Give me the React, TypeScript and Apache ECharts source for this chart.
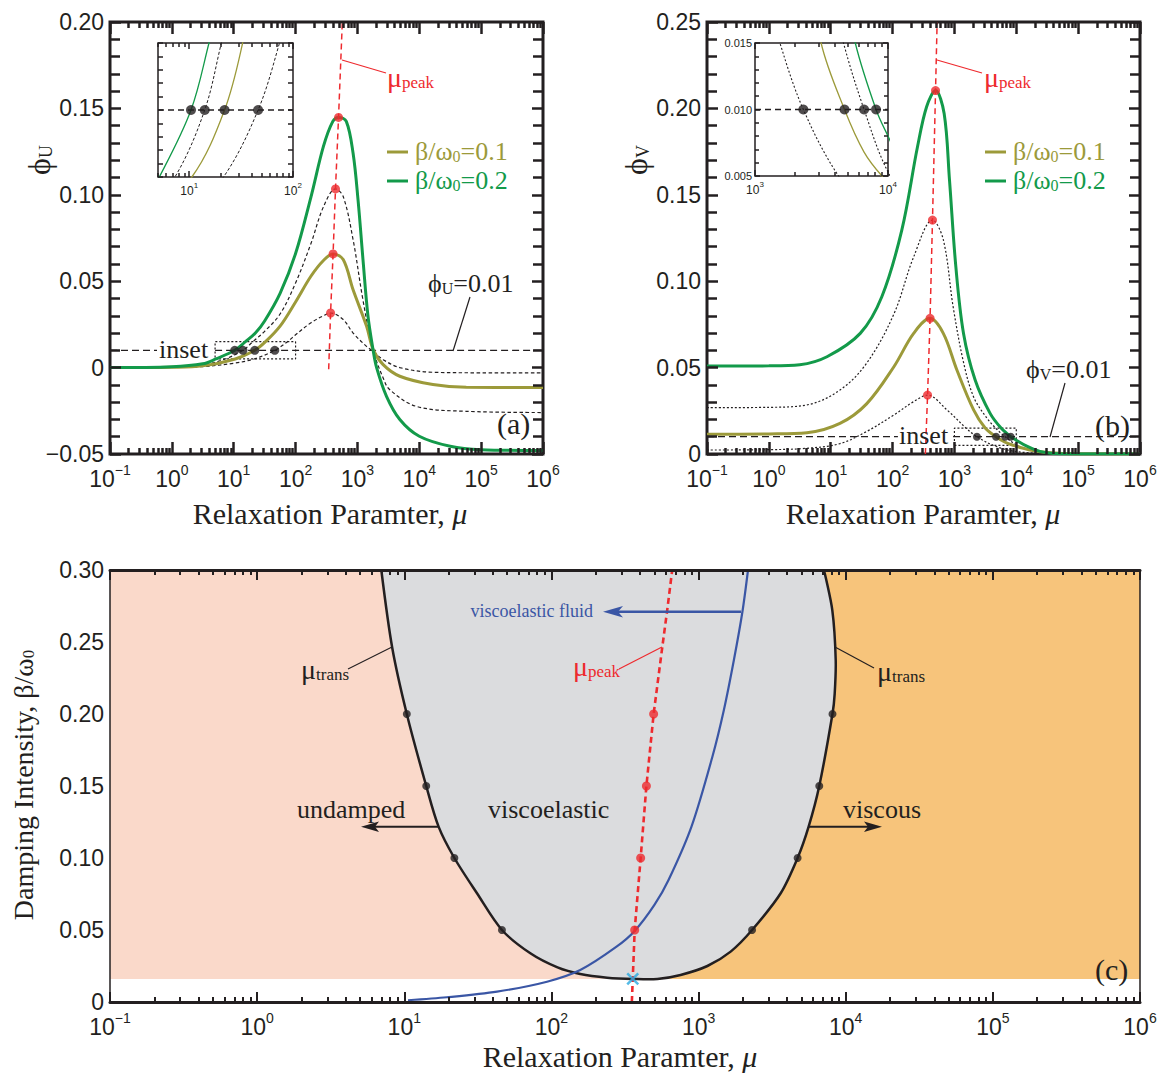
import React, { useEffect, useRef } from 'react';
import * as echarts from 'echarts';

const SERIF = '"Liberation Serif", "Times New Roman", Times, serif';
const SANS = '"Liberation Sans", Arial, Helvetica, sans-serif';

const GREEN = '#139a4a';
const OLIVE = '#9c9a3a';
const RED = '#ee2a2e';
const BLACK = '#231f20';
const BLUE = '#3a56a5';
const CYAN = '#29a9e0';
const PINK = '#fad9ca';
const ORANGE = '#f7c47b';
const GRAY = '#dbdcde';

// ---------------- data ----------------
const betaLevels = [0.05, 0.1, 0.15, 0.2];
const muPeak = [368, 404, 442, 495];
const phiUPeak = [0.0316, 0.0658, 0.1034, 0.1448];
const phiVPeak = [0.0341, 0.0785, 0.1354, 0.2103];
const muTransLow = [46.1, 21.9, 14.1, 10.4];
const muTransHigh = [2310, 4710, 6610, 8128];
const phiLevel = 0.01;
const insetURange = [5, 100];
const insetVRange = [1000, 10000];
const insetPhiRange = [0.005, 0.015];
const gapU = [0.575, 5];
const gapV = [122, 950];
const fillFloor = 0.016;
const regionSplit = 450;
const crossPoint = [357, 0.016];

const decadeTicks = [0.1, 1, 10, 100, 1000, 10000, 100000, 1000000];

// panel (a): phi_U vs mu
const phiU_b005 = [[0.1, 0], [1, 0.0001], [3.16, 0.0006], [10, 0.0025], [21.4, 0.005], [46.1, 0.01], [74.1, 0.015], [100, 0.019], [178, 0.026], [282, 0.03], [368, 0.0316], [589, 0.0278], [851, 0.02], [1403, 0.0123], [1795, 0.0094], [2606, 0.0046], [4842, 0], [16596, -0.0027], [100000, -0.003], [1000000, -0.003]];
const phiU_b010 = [[0.1, 0], [1, 0.0002], [3.16, 0.001], [10.6, 0.005], [21.9, 0.01], [32.7, 0.015], [56.2, 0.024], [100, 0.038], [178, 0.053], [282, 0.062], [404, 0.0658], [589, 0.0625], [851, 0.045], [1403, 0.024], [1795, 0.0104], [2606, 0.0017], [4842, -0.005], [16596, -0.0098], [57544, -0.0114], [1000000, -0.0115]];
const phiU_b015 = [[0.1, 0], [1, 0.0003], [3.16, 0.0015], [7.28, 0.005], [14.1, 0.01], [20.4, 0.015], [31.6, 0.021], [56.2, 0.031], [100, 0.049], [178, 0.072], [282, 0.093], [442, 0.1034], [589, 0.099], [851, 0.074], [1230, 0.039], [1795, 0.01], [2606, -0.006], [3311, -0.0127], [8913, -0.0224], [57544, -0.0253], [1000000, -0.026]];
const phiU_b020 = [[0.1, 0], [1, 0.0005], [3.16, 0.0022], [5.15, 0.005], [10.4, 0.01], [15.5, 0.015], [22.4, 0.02], [31.6, 0.027], [56.2, 0.043], [100, 0.066], [178, 0.099], [282, 0.128], [400, 0.1425], [495, 0.1448], [661, 0.1425], [851, 0.124], [1023, 0.097], [1230, 0.0625], [1479, 0.03], [1795, 0.01], [2042, 0], [2951, -0.0166], [4842, -0.03], [10000, -0.0397], [31623, -0.0455], [100000, -0.0475], [1000000, -0.048]];
const peakLineU = [[343, -0.001], [368, 0.0316], [404, 0.0658], [442, 0.1034], [495, 0.1448], [570, 0.2]];

// panel (b): phi_V vs mu
const phiV_b005 = [[0.1, 0.0023], [1, 0.0025], [4.12, 0.0033], [14.1, 0.006], [38, 0.013], [105, 0.0226], [219, 0.0303], [368, 0.0341], [759, 0.0255], [1540, 0.015], [2310, 0.01], [4250, 0.005], [7943, 0.002], [15849, 0.0007], [39811, 0], [1000000, 0]];
const phiV_b010 = [[0.1, 0.0114], [1, 0.0116], [4.12, 0.0123], [14.1, 0.0177], [38, 0.029], [105, 0.0505], [219, 0.0698], [404, 0.0785], [661, 0.0698], [1096, 0.0486], [2042, 0.0255], [3141, 0.015], [4710, 0.01], [6607, 0.0068], [9016, 0.005], [15849, 0.0025], [31623, 0.0008], [100000, 0], [1000000, 0]];
const phiV_b015 = [[0.1, 0.0268], [1, 0.027], [4.12, 0.0284], [14.1, 0.037], [38, 0.0525], [105, 0.081], [219, 0.114], [442, 0.1354], [661, 0.124], [955, 0.085], [1413, 0.0525], [2042, 0.033], [3162, 0.022], [4630, 0.015], [6610, 0.01], [10000, 0.0053], [15849, 0.0025], [31623, 0.0005], [100000, 0], [1000000, 0]];
const phiV_b020 = [[0.1, 0.0509], [1, 0.051], [3.16, 0.0517], [8.7, 0.0563], [30, 0.0698], [67, 0.091], [141, 0.1296], [253, 0.1778], [355, 0.201], [495, 0.2103], [682, 0.197], [832, 0.1586], [1054, 0.1084], [1403, 0.0698], [2163, 0.0428], [3776, 0.0235], [5675, 0.015], [8128, 0.01], [10000, 0.008], [14791, 0.0045], [23988, 0.0015], [39811, 0.0003], [100000, 0], [1000000, 0]];
const peakLineV = [[339, 0], [368, 0.0341], [404, 0.0785], [442, 0.1354], [495, 0.2103], [525, 0.25]];

// panel (c): phase diagram
const transBoundary = [[6.98, 0.3], [8.28, 0.246], [10.4, 0.2], [14.1, 0.15], [17.1, 0.1218], [21.9, 0.1], [31.2, 0.0755], [46.1, 0.05], [71.9, 0.0338], [110, 0.024], [157, 0.0194], [239, 0.0169], [363, 0.016], [525, 0.016], [755, 0.0188], [1148, 0.025], [1652, 0.035], [2310, 0.05], [3614, 0.0755], [4710, 0.1], [5598, 0.1218], [6610, 0.15], [8128, 0.2], [8414, 0.214], [8551, 0.2375], [8110, 0.272], [7112, 0.3]];
const fluidLine = [[10.6, 0.0012], [19.5, 0.0033], [42.7, 0.0072], [93.3, 0.0141], [157, 0.0222], [277, 0.0384], [369, 0.0495], [501, 0.0674], [625, 0.0847], [895, 0.1218], [1239, 0.17], [1486, 0.2028], [1738, 0.2375], [1986, 0.271], [2168, 0.3]];
const peakLineC = [[352, 0], [357, 0.016], [368, 0.05], [404, 0.1], [442, 0.15], [495, 0.2], [566, 0.246], [612, 0.272], [662, 0.3]];

// ---------------- helpers ----------------
const minorTicks = (lo: number, hi: number) => {
  const out: number[] = [];
  for (let d = lo; d < hi * 0.999; d *= 10) {
    for (let k = 2; k <= 9; k++) out.push(+(k * d).toPrecision(6));
  }
  return out;
};

const supLabel = (size: number, supSize: number, values: number[], margin: number) => ({
  show: true,
  customValues: values,
  margin,
  formatter: (v: number) => {
    const e = Math.round(Math.log10(v));
    return `{b|10}{s|${e < 0 ? '\u2212' + -e : e}}`;
  },
  rich: {
    b: { fontFamily: SANS, fontSize: size, color: BLACK, lineHeight: size + 4, verticalAlign: 'bottom' },
    s: { fontFamily: SANS, fontSize: supSize, color: BLACK, lineHeight: supSize, verticalAlign: 'top' },
  },
});

function xSet(grid: number, min: number, max: number, position: string, majors: number[], minors: number[], majLen: number, minLen: number, w: number, label?: any, line?: any) {
  const base = { type: 'log', logBase: 10, gridIndex: grid, min, max, position, splitLine: { show: false }, z: 10 };
  return [
    { ...base, axisLine: line || { show: false, onZero: false }, axisTick: { show: true, inside: true, length: majLen, customValues: majors, lineStyle: { color: BLACK, width: w } }, axisLabel: label || { show: false } },
    { ...base, axisLine: { show: false, onZero: false }, axisTick: { show: true, inside: true, length: minLen, customValues: minors, lineStyle: { color: BLACK, width: w } }, axisLabel: { show: false } },
  ];
}

const fmtY = (v: number) => (Math.abs(v) < 1e-9 ? '0' : v.toFixed(2).replace('-', '\u2212'));

function yAx(grid: number, min: number, max: number, interval: number, position: string, showLabel: boolean, o: any = {}) {
  return {
    type: 'value', gridIndex: grid, min, max, interval, position,
    axisLine: { show: false, onZero: false },
    axisTick: { show: true, inside: true, length: 11, lineStyle: { color: BLACK, width: 2.5 } },
    minorTick: { show: true, splitNumber: 5, length: 10, lineStyle: { color: BLACK, width: 2.5 } },
    splitLine: { show: false }, minorSplitLine: { show: false },
    axisLabel: showLabel ? { show: true, formatter: fmtY, fontFamily: SANS, fontSize: 23, color: BLACK, margin: 6 } : { show: false },
    z: 10,
    ...o,
  };
}

const line = (data: any, xi: number, yi: number, color: string, width: number, dash: any, extra: any = {}) => ({
  type: 'line', data, xAxisIndex: xi, yAxisIndex: yi, showSymbol: false, symbol: 'none',
  smooth: 0.35, lineStyle: { color, width, type: dash }, silent: true, z: 3, animation: false, ...extra,
});

const dots = (data: any, xi: number, yi: number, color: string, size: number, z = 6) => ({
  type: 'scatter', data, xAxisIndex: xi, yAxisIndex: yi, symbol: 'circle', symbolSize: size,
  itemStyle: { color }, silent: true, z, animation: false,
});

// text baseline correction for the tall rich line boxes
const TEXT_SHIFT = 6;
const gtext = (x: number, y: number, text: string, rich: any, o: any = {}) => {
  const { rotation, ...st } = o;
  return {
    type: 'text',
    x: rotation ? x - TEXT_SHIFT : x,
    y: rotation ? y : y - TEXT_SHIFT,
    z: 50, silent: true,
    style: { text, rich, align: 'left', verticalAlign: 'middle', ...st },
    ...(rotation ? { rotation } : {}),
  };
};

const gline = (x1: number, y1: number, x2: number, y2: number, stroke: string, lineWidth: number) => ({
  type: 'line', z: 50, silent: true, shape: { x1, y1, x2, y2 }, style: { stroke, lineWidth },
});

const gpoly = (points: number[][], fill: string) => ({ type: 'polygon', z: 51, silent: true, shape: { points }, style: { fill } });

const subRich = (size: number, subSize: number, color: string) => ({
  b: { fontFamily: SERIF, fontSize: size, fill: color, lineHeight: size + 10, verticalAlign: 'bottom' },
  s: { fontFamily: SERIF, fontSize: subSize, fill: color, lineHeight: subSize, verticalAlign: 'bottom' },
  i: { fontFamily: SERIF, fontSize: size, fill: color, lineHeight: size + 10, verticalAlign: 'bottom', fontStyle: 'italic' },
});

function buildOption() {
  const insetMinorU = minorTicks(1, 100).filter((v) => v >= insetURange[0] && v !== 10 && v !== 100);
  const insetMinorV = minorTicks(1000, 10000);
  const mainMinor = minorTicks(0.1, 1000000);
  const thick = { show: true, onZero: false, lineStyle: { color: BLACK, width: 3 } };

  const xAxis = [
    // (a) 0-3
    ...xSet(0, 0.1, 1e6, 'bottom', decadeTicks, mainMinor, 12, 6, 2.5, supLabel(23, 14, decadeTicks, 9)),
    ...xSet(0, 0.1, 1e6, 'top', decadeTicks, mainMinor, 12, 6, 2.5),
    // (b) 4-7
    ...xSet(1, 0.1, 1e6, 'bottom', decadeTicks, mainMinor, 12, 6, 2.5, supLabel(23, 14, decadeTicks, 9)),
    ...xSet(1, 0.1, 1e6, 'top', decadeTicks, mainMinor, 12, 6, 2.5),
    // (c) 8-11
    ...xSet(2, 0.1, 1e6, 'bottom', decadeTicks, mainMinor, 10, 5, 2, supLabel(23, 14, decadeTicks, 9), thick),
    ...xSet(2, 0.1, 1e6, 'top', decadeTicks, mainMinor, 10, 5, 2, undefined, thick),
    // inset (a) 12-15
    ...xSet(3, insetURange[0], insetURange[1], 'bottom', [10, 100], insetMinorU, 6, 4, 1.5, supLabel(12, 8, [10, 100], 4)),
    ...xSet(3, insetURange[0], insetURange[1], 'top', [10, 100], insetMinorU, 6, 4, 1.5),
    // inset (b) 16-19
    ...xSet(4, insetVRange[0], insetVRange[1], 'bottom', [1000, 10000], insetMinorV, 6, 4, 1.5, supLabel(12, 8, [1000, 10000], 4)),
    ...xSet(4, insetVRange[0], insetVRange[1], 'top', [1000, 10000], insetMinorV, 6, 4, 1.5),
  ];

  const thinLine = { show: true, onZero: false, lineStyle: { color: BLACK, width: 1.5 } };
  const insetY = (grid: number, pos: string, labels: boolean, interval: number, minor: boolean) => ({
    type: 'value', gridIndex: grid, min: insetPhiRange[0], max: insetPhiRange[1], interval, position: pos,
    axisLine: { show: false, onZero: false },
    axisTick: { show: true, inside: true, length: 5, lineStyle: { color: BLACK, width: 1.5 } },
    minorTick: { show: minor, splitNumber: 5, length: 4, lineStyle: { color: BLACK, width: 1.5 } },
    splitLine: { show: false }, minorSplitLine: { show: false },
    axisLabel: labels ? { show: true, formatter: (v: number) => v.toFixed(3), fontFamily: SANS, fontSize: 11, color: BLACK, margin: 3 } : { show: false },
    z: 10,
  });

  const yAxis = [
    yAx(0, -0.05, 0.2, 0.05, 'left', true),
    yAx(0, -0.05, 0.2, 0.05, 'right', false),
    yAx(1, 0, 0.25, 0.05, 'left', true),
    yAx(1, 0, 0.25, 0.05, 'right', false),
    yAx(2, 0, 0.3, 0.05, 'left', true, { axisLine: thinLine, axisTick: { show: false }, minorTick: { show: false } }),
    yAx(2, 0, 0.3, 0.05, 'right', false, { axisLine: thinLine, axisTick: { show: false }, minorTick: { show: false } }),
    insetY(3, 'left', false, 0.001, false),
    insetY(3, 'right', false, 0.001, false),
    insetY(4, 'left', true, 0.005, true),
    insetY(4, 'right', false, 0.005, true),
  ];

  const dashA = [3.5, 2.5];
  const dotB = [2, 2];
  const series: any[] = [];

  // ---- panel (a) ----
  const A = [0, 0];
  series.push(
    line(phiU_b005, A[0], A[1], BLACK, 1.2, dashA),
    line(phiU_b015, A[0], A[1], BLACK, 1.2, dashA),
    line(phiU_b010, A[0], A[1], OLIVE, 3, 'solid', { z: 4 }),
    line(phiU_b020, A[0], A[1], GREEN, 3, 'solid', { z: 4 }),
    line([[0.1, phiLevel], [gapU[0], phiLevel]], A[0], A[1], BLACK, 1.2, [7, 4], { smooth: false }),
    line([[gapU[1], phiLevel], [1e6, phiLevel]], A[0], A[1], BLACK, 1.2, [7, 4], { smooth: false }),
    line([[insetURange[0], insetPhiRange[0]], [insetURange[1], insetPhiRange[0]], [insetURange[1], insetPhiRange[1]], [insetURange[0], insetPhiRange[1]], [insetURange[0], insetPhiRange[0]]], A[0], A[1], BLACK, 1.2, [2, 2], { smooth: false }),
    line(peakLineU, A[0], A[1], RED, 1.5, [6, 4], { smooth: false, z: 5 }),
    dots(muPeak.map((m, i) => [m, phiUPeak[i]]), A[0], A[1], RED, 9),
    dots(muTransLow.map((m) => [m, phiLevel]), A[0], A[1], BLACK, 9),
  );

  // ---- inset (a) ----
  const IA = [12, 6];
  series.push(
    line(phiU_b005, IA[0], IA[1], BLACK, 1, [3, 2]),
    line(phiU_b015, IA[0], IA[1], BLACK, 1, [3, 2]),
    line(phiU_b010, IA[0], IA[1], OLIVE, 1.3, 'solid'),
    line(phiU_b020, IA[0], IA[1], GREEN, 1.3, 'solid'),
    line([[insetURange[0], phiLevel], [insetURange[1], phiLevel]], IA[0], IA[1], BLACK, 1.3, [6, 4], { smooth: false }),
    dots(muTransLow.map((m) => [m, phiLevel]), IA[0], IA[1], BLACK, 10),
  );

  // ---- panel (b) ----
  const B = [4, 2];
  series.push(
    line(phiV_b005, B[0], B[1], BLACK, 1.2, dotB),
    line(phiV_b015, B[0], B[1], BLACK, 1.2, dotB),
    line(phiV_b010, B[0], B[1], OLIVE, 3, 'solid', { z: 4 }),
    line(phiV_b020, B[0], B[1], GREEN, 3, 'solid', { z: 4 }),
    line([[0.1, phiLevel], [gapV[0], phiLevel]], B[0], B[1], BLACK, 1.2, [7, 4], { smooth: false }),
    line([[gapV[1], phiLevel], [1e6, phiLevel]], B[0], B[1], BLACK, 1.2, [7, 4], { smooth: false }),
    line([[insetVRange[0], insetPhiRange[0]], [insetVRange[1], insetPhiRange[0]], [insetVRange[1], insetPhiRange[1]], [insetVRange[0], insetPhiRange[1]], [insetVRange[0], insetPhiRange[0]]], B[0], B[1], BLACK, 1.2, [2, 2], { smooth: false }),
    line(peakLineV, B[0], B[1], RED, 1.5, [6, 4], { smooth: false, z: 5 }),
    dots(muPeak.map((m, i) => [m, phiVPeak[i]]), B[0], B[1], RED, 9),
    dots(muTransHigh.map((m) => [m, phiLevel]), B[0], B[1], BLACK, 8),
  );

  // ---- inset (b) ----
  const IB = [16, 8];
  series.push(
    line(phiV_b005, IB[0], IB[1], BLACK, 1.1, [2, 2]),
    line(phiV_b015, IB[0], IB[1], BLACK, 1.1, [2, 2]),
    line(phiV_b010, IB[0], IB[1], OLIVE, 1.3, 'solid'),
    line(phiV_b020, IB[0], IB[1], GREEN, 1.3, 'solid'),
    line([[insetVRange[0], phiLevel], [insetVRange[1], phiLevel]], IB[0], IB[1], BLACK, 1.3, [6, 4], { smooth: false }),
    dots(muTransHigh.map((m) => [m, phiLevel]), IB[0], IB[1], BLACK, 10),
  );

  // ---- panel (c) ----
  const C = [8, 4];
  const rectItem = (fill: string) => (params: any, api: any) => {
    const p0 = api.coord([api.value(0), api.value(1)]);
    const p1 = api.coord([api.value(2), api.value(3)]);
    return { type: 'rect', shape: { x: p0[0], y: p1[1], width: p1[0] - p0[0], height: p0[1] - p1[1] }, style: { fill } };
  };
  series.push(
    { type: 'custom', xAxisIndex: C[0], yAxisIndex: C[1], z: 1, silent: true, data: [[0.1, fillFloor, regionSplit, 0.3]], renderItem: rectItem(PINK) },
    { type: 'custom', xAxisIndex: C[0], yAxisIndex: C[1], z: 1, silent: true, data: [[regionSplit, fillFloor, 1e6, 0.3]], renderItem: rectItem(ORANGE) },
    {
      type: 'custom', xAxisIndex: C[0], yAxisIndex: C[1], z: 2, silent: true,
      data: [[transBoundary[0][0], transBoundary[0][1]]],
      renderItem: (params: any, api: any) => {
        const pts = transBoundary.map((p) => api.coord(p));
        const poly = [pts[0], ...pts, pts[pts.length - 1]];
        return {
          type: 'group',
          children: [
            { type: 'polygon', shape: { points: poly, smooth: 0.3 }, style: { fill: GRAY } },
            { type: 'polyline', shape: { points: pts, smooth: 0.3 }, style: { stroke: BLACK, lineWidth: 2.5, fill: null } },
          ],
        };
      },
    },
    line(fluidLine, C[0], C[1], BLUE, 2.2, 'solid', { z: 4, smooth: 0.3 }),
    line(peakLineC, C[0], C[1], RED, 2.6, [6, 4], { smooth: false, z: 5 }),
    dots(muPeak.map((m, i) => [m, betaLevels[i]]), C[0], C[1], RED, 9),
    dots(muTransLow.map((m, i) => [m, betaLevels[i]]), C[0], C[1], BLACK, 8),
    dots(muTransHigh.map((m, i) => [m, betaLevels[i]]), C[0], C[1], BLACK, 8),
    {
      type: 'scatter', xAxisIndex: C[0], yAxisIndex: C[1], data: [crossPoint], silent: true, z: 7,
      symbol: 'path://M0,0L10,10M10,0L0,10', symbolSize: 11,
      itemStyle: { color: 'rgba(0,0,0,0)', borderColor: CYAN, borderWidth: 2.5 },
    },
  );

  // ---- annotations ----
  const r26 = (c: string) => subRich(26, 16, c);
  const g: any[] = [];
  // panel (a)
  g.push(
    gtext(387, 78, '{b|\u03bc}{s|peak}', subRich(28, 17, RED)),
    gline(342, 60, 386, 73, RED, 1.2),
    gline(387, 152, 408, 152, OLIVE, 3),
    gtext(415, 152, '{b|\u03b2/\u03c9}{s|0}{b|=0.1}', r26(OLIVE)),
    gline(387, 181, 408, 181, GREEN, 3),
    gtext(415, 181, '{b|\u03b2/\u03c9}{s|0}{b|=0.2}', r26(GREEN)),
    gtext(428, 284, '{b|\u03d5}{s|U}{b|=0.01}', r26(BLACK)),
    gline(470, 297, 453, 351, BLACK, 1.2),
    gtext(159, 350, '{b|inset}', r26(BLACK)),
    gtext(497, 424, '{b|(a)}', subRich(30, 16, BLACK)),
    gtext(330, 514, '{b|Relaxation Paramter, }{i|\u03bc}', subRich(30, 16, BLACK), { align: 'center' }),
    gtext(40, 160, '{b|\u03d5}{s|U}', subRich(32, 18, BLACK), { align: 'center', rotation: Math.PI / 2 }),
  );
  // panel (b)
  g.push(
    gtext(984, 78, '{b|\u03bc}{s|peak}', subRich(28, 17, RED)),
    gline(937, 60, 982, 73, RED, 1.2),
    gline(985, 152, 1006, 152, OLIVE, 3),
    gtext(1013, 152, '{b|\u03b2/\u03c9}{s|0}{b|=0.1}', r26(OLIVE)),
    gline(985, 181, 1006, 181, GREEN, 3),
    gtext(1013, 181, '{b|\u03b2/\u03c9}{s|0}{b|=0.2}', r26(GREEN)),
    gtext(1026, 370, '{b|\u03d5}{s|V}{b|=0.01}', r26(BLACK)),
    gline(1065, 383, 1050, 437, BLACK, 1.2),
    gtext(899, 436, '{b|inset}', r26(BLACK)),
    gtext(1095, 426, '{b|(b)}', subRich(30, 16, BLACK)),
    gtext(923, 514, '{b|Relaxation Paramter, }{i|\u03bc}', subRich(30, 16, BLACK), { align: 'center' }),
    gtext(637, 160, '{b|\u03d5}{s|V}', subRich(32, 18, BLACK), { align: 'center', rotation: Math.PI / 2 }),
  );
  // panel (c)
  g.push(
    gtext(301, 670, '{b|\u03bc}{s|trans}', subRich(28, 17, BLACK)),
    gline(348, 669, 392, 647, BLACK, 1.2),
    gtext(877, 672, '{b|\u03bc}{s|trans}', subRich(28, 17, BLACK)),
    gline(835, 647, 874, 668, BLACK, 1.2),
    gtext(573, 667, '{b|\u03bc}{s|peak}', subRich(28, 17, RED)),
    gline(619, 669, 662, 647, RED, 1.2),
    gtext(593, 612, '{b|viscoelastic fluid}', subRich(18, 12, BLUE), { align: 'right' }),
    gline(741, 611.7, 614, 611.7, BLUE, 2.5),
    gpoly([[603, 611.7], [623, 606], [618, 611.7], [623, 617.4]], BLUE),
    gtext(297, 810, '{b|undamped}', r26(BLACK)),
    gline(438, 826.7, 372, 826.7, BLACK, 2),
    gpoly([[361, 826.7], [379, 821.5], [375, 826.7], [379, 831.9]], BLACK),
    gtext(488, 810, '{b|viscoelastic}', r26(BLACK)),
    gtext(843, 810, '{b|viscous}', r26(BLACK)),
    gline(808, 826.7, 871, 826.7, BLACK, 2),
    gpoly([[882, 826.7], [864, 821.5], [868, 826.7], [864, 831.9]], BLACK),
    gtext(1095, 970, '{b|(c)}', subRich(30, 16, BLACK)),
    gtext(620, 1057, '{b|Relaxation Paramter, }{i|\u03bc}', subRich(30, 16, BLACK), { align: 'center' }),
    gtext(24, 785, '{b|Damping Intensity, \u03b2/\u03c9}{s|0}', subRich(28, 17, BLACK), { align: 'center', rotation: Math.PI / 2 }),
  );

  return {
    animation: false,
    backgroundColor: '#ffffff',
    grid: [
      { left: 110, top: 22, width: 433, height: 432, show: true, borderColor: BLACK, borderWidth: 3, backgroundColor: 'transparent' },
      { left: 707, top: 22, width: 433, height: 432, show: true, borderColor: BLACK, borderWidth: 3, backgroundColor: 'transparent' },
      { left: 110, top: 570, width: 1030, height: 432, show: false },
      { left: 158, top: 43, width: 135, height: 134, show: true, borderColor: BLACK, borderWidth: 1.5, backgroundColor: '#ffffff' },
      { left: 755, top: 43, width: 133, height: 133, show: true, borderColor: BLACK, borderWidth: 1.5, backgroundColor: '#ffffff' },
    ],
    xAxis,
    yAxis,
    series,
    graphic: { elements: g },
  };
}

export default function App() {
  const ref = useRef<HTMLDivElement>(null);
  useEffect(() => {
    document.body.style.margin = '0';
    const chart = echarts.init(ref.current as HTMLDivElement, null, { renderer: 'svg' });
    chart.setOption(buildOption() as any);
    return () => chart.dispose();
  }, []);
  return <div ref={ref} style={{ width: 1163, height: 1076, background: '#fff' }} />;
}
